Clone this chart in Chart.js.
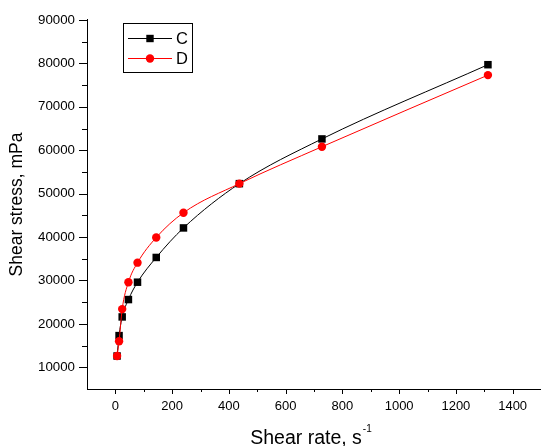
<!DOCTYPE html>
<html><head><meta charset="utf-8">
<script src="https://cdn.jsdelivr.net/npm/chart.js@4/dist/chart.umd.min.js"></script>
<style>html,body{margin:0;padding:0;background:#fff}#wrap{width:541px;height:446px}</style>
</head><body><div id="wrap"><canvas id="c" width="541" height="446"></canvas></div>
<script>
const seriesNames = ['C', 'D'];
const shearRateC = [6, 13, 24, 46, 78, 144, 240, 437, 728, 1313];
const stressC = [12600, 17300, 21600, 25600, 29600, 35300, 42100, 52300, 62600, 79700];
const shearRateD = [6, 13, 24, 46, 78, 144, 240, 437, 728, 1313];
const stressD = [12600, 16000, 23400, 29600, 34100, 39900, 45600, 52300, 60800, 77300];
const xTickLabels = [0, 200, 400, 600, 800, 1000, 1200, 1400];
const yTickLabels = [10000, 20000, 30000, 40000, 50000, 60000, 70000, 80000, 90000];
const xTitle = 'Shear rate, s';
const xTitleSup = '-1';
const yTitle = 'Shear stress, mPa';

const FONT = 'Arial, "Liberation Sans", sans-serif';
const toPts = (xs, ys) => xs.map((x, i) => ({x: x, y: ys[i]}));

const decor = {
  id: 'decor',
  afterDraw(chart) {
    const ctx = chart.ctx, xs = chart.scales.x, ys = chart.scales.y, a = chart.chartArea;
    ctx.save();
    ctx.strokeStyle = '#000'; ctx.lineWidth = 1;
    for (let v = 0; v <= 1400; v += 100) {
      const px = Math.round(xs.getPixelForValue(v)) + 0.5;
      const len = (v % 200 === 0) ? 5 : 3;
      ctx.beginPath(); ctx.moveTo(px, a.bottom); ctx.lineTo(px, a.bottom + len); ctx.stroke();
    }
    for (let v = 10000; v <= 90000; v += 5000) {
      const py = Math.round(ys.getPixelForValue(v)) + 0.5;
      const len = (v % 10000 === 0) ? 8 : 5;
      ctx.beginPath(); ctx.moveTo(a.left, py); ctx.lineTo(a.left - len, py); ctx.stroke();
    }
    ctx.fillStyle = '#000';
    ctx.textBaseline = 'alphabetic';
    ctx.font = '19.5px ' + FONT;
    const w1 = ctx.measureText(xTitle).width;
    ctx.font = '10px ' + FONT;
    const w2 = ctx.measureText(xTitleSup).width;
    const cx = (a.left + a.right) / 2 - 3;
    const x0 = cx - (w1 + w2 + 1) / 2;
    ctx.font = '19.5px ' + FONT;
    ctx.textAlign = 'left';
    ctx.fillText(xTitle, x0, 444);
    ctx.font = '10px ' + FONT;
    ctx.fillText(xTitleSup, x0 + w1 + 1, 432);
    const bx = 123, by = 23, bw = 69, bh = 49;
    ctx.strokeStyle = '#000'; ctx.lineWidth = 1;
    ctx.strokeRect(bx + 0.5, by + 0.5, bw, bh);
    const rows = [38, 58];
    chart.data.datasets.forEach((ds, i) => {
      const y = rows[i];
      ctx.strokeStyle = ds.borderColor; ctx.lineWidth = 1;
      ctx.beginPath(); ctx.moveTo(128, y + 0.5); ctx.lineTo(172, y + 0.5); ctx.stroke();
      ctx.fillStyle = ds.pointBackgroundColor;
      if (ds.pointStyle === 'rect') {
        ctx.fillRect(150 - 3.7, y + 0.5 - 3.7, 7.4, 7.4);
      } else {
        ctx.beginPath(); ctx.arc(150, y + 0.5, ds.pointRadius, 0, Math.PI * 2); ctx.fill();
      }
      ctx.fillStyle = '#000';
      ctx.font = '16.5px ' + FONT;
      ctx.textAlign = 'left'; ctx.textBaseline = 'middle';
      ctx.fillText(ds.label, 176, y + 1);
    });
    ctx.restore();
  }
};

new Chart(document.getElementById('c'), {
  type: 'line',
  data: {
    datasets: [
      {
        label: seriesNames[0], data: toPts(shearRateC, stressC), order: 2,
        borderColor: '#000000', backgroundColor: '#000000', borderWidth: 1,
        pointStyle: 'rect', pointRadius: 5.3, pointBorderWidth: 0,
        pointBackgroundColor: '#000000', cubicInterpolationMode: 'monotone', fill: false
      },
      {
        label: seriesNames[1], data: toPts(shearRateD, stressD), order: 1,
        borderColor: '#ff0000', backgroundColor: '#ff0000', borderWidth: 1,
        pointStyle: 'circle', pointRadius: 4.2, pointBorderWidth: 0,
        pointBackgroundColor: '#ff0000', cubicInterpolationMode: 'monotone', fill: false
      }
    ]
  },
  options: {
    responsive: false, animation: false, devicePixelRatio: 1,
    layout: {autoPadding: false, padding: {top: 19, right: 0, left: 0, bottom: 0}},
    plugins: {legend: {display: false}, tooltip: {enabled: false}},
    scales: {
      x: {
        type: 'linear', min: -100, max: 1500,
        afterBuildTicks: s => { s.ticks = xTickLabels.map(v => ({value: v})); },
        afterFit: s => { s.height = 57; s.paddingLeft = 0; s.paddingRight = 0; },
        grid: {display: false, drawTicks: false},
        border: {display: true, color: '#000', width: 1},
        ticks: {color: '#000', font: {family: FONT, size: 13}, padding: 10, maxRotation: 0, autoSkip: false,
                callback: v => String(v)}
      },
      y: {
        type: 'linear', min: 5000, max: 90000,
        afterBuildTicks: s => { s.ticks = yTickLabels.map(v => ({value: v})); },
        afterFit: s => { s.width = 87; },
        grid: {display: false, drawTicks: false},
        border: {display: true, color: '#000', width: 1},
        ticks: {color: '#000', font: {family: FONT, size: 13.3}, padding: 12, autoSkip: false,
                callback: v => String(v)},
        title: {display: true, text: yTitle, color: '#000', font: {family: FONT, size: 17.5}, padding: {top: 7, bottom: 0}}
      }
    }
  },
  plugins: [decor]
});
</script>
</body></html>
